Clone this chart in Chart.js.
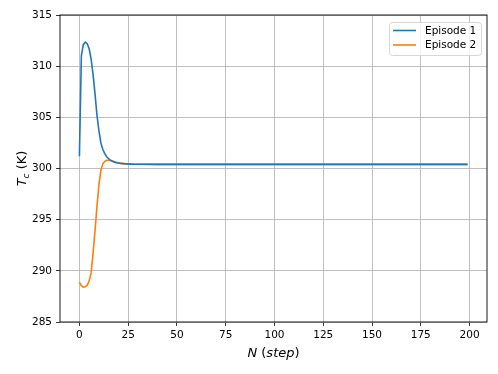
<!DOCTYPE html>
<html>
<head>
<meta charset="utf-8">
<script src="https://cdn.jsdelivr.net/npm/chart.js@4.4.1/dist/chart.umd.min.js"></script>
<style>
  html, body { margin: 0; padding: 0; background: #fff; }
  #wrap { width: 498px; height: 374px; }
</style>
</head>
<body>
<div id="wrap"><canvas id="tcChart" width="498" height="374"></canvas></div>
<script>
const steps = [
  0, 1, 2, 3, 4, 5, 6, 7, 8, 9, 10, 11, 12, 13, 14, 15, 16, 17, 18, 19,
  20, 21, 22, 23, 24, 25, 26, 27, 28, 29, 30,
  40, 50, 60, 70, 80, 90, 100, 110, 120, 130, 140, 150, 160, 170, 180, 190, 199
];
const episode1 = [
  301.2, 311.0, 312.1, 312.35, 312.2, 311.7, 310.7, 309.2, 307.3, 305.2,
  303.7, 302.5, 301.85, 301.45, 301.15, 300.95, 300.8, 300.7, 300.62, 300.57,
  300.53, 300.5, 300.48, 300.46, 300.45, 300.44, 300.43, 300.42, 300.42, 300.41, 300.41,
  300.4, 300.4, 300.4, 300.4, 300.4, 300.4, 300.4, 300.4, 300.4, 300.4, 300.4,
  300.4, 300.4, 300.4, 300.4, 300.4, 300.4
];
const episode2 = [
  288.9, 288.55, 288.4, 288.45, 288.6, 289.0, 289.8, 291.7, 293.9, 296.3,
  298.4, 299.8, 300.45, 300.7, 300.8, 300.8, 300.78, 300.72, 300.66, 300.6,
  300.56, 300.52, 300.5, 300.48, 300.46, 300.45, 300.44, 300.43, 300.42, 300.42, 300.41,
  300.4, 300.4, 300.4, 300.4, 300.4, 300.4, 300.4, 300.4, 300.4, 300.4, 300.4,
  300.4, 300.4, 300.4, 300.4, 300.4, 300.4
];
const seriesNames = ["Episode 1", "Episode 2"];
const seriesColors = ["#1f77b4", "#ff7f0e"];
const xTicks = [0, 25, 50, 75, 100, 125, 150, 175, 200];

const toPoints = (ys) => steps.map((x, i) => ({ x: x, y: ys[i] }));

// frame, axis titles (with sub/italics) and the legend box
const decorations = {
  id: "decorations",
  afterDraw(chart) {
    const { ctx, chartArea: a } = chart;
    ctx.save();
    ctx.strokeStyle = "#000";
    ctx.lineWidth = 0.9;
    ctx.strokeRect(a.left, a.top, a.right - a.left, a.bottom - a.top);

    // x title: N (step)
    ctx.fillStyle = "#000";
    ctx.textBaseline = "alphabetic";
    const parts = [
      ["italic 13px 'DejaVu Sans'", "N"],
      ["13px 'DejaVu Sans'", " ("],
      ["italic 13px 'DejaVu Sans'", "step"],
      ["13px 'DejaVu Sans'", ")"]
    ];
    let w = 0;
    parts.forEach(p => { ctx.font = p[0]; w += ctx.measureText(p[1]).width; });
    let x = (a.left + a.right) / 2 - w / 2;
    parts.forEach(p => {
      ctx.font = p[0];
      ctx.fillText(p[1], x, 357);
      x += ctx.measureText(p[1]).width;
    });

    // y title: T_c (K)
    ctx.save();
    ctx.translate(26, (a.top + a.bottom) / 2);
    ctx.rotate(-Math.PI / 2);
    const yparts = [
      ["italic 13px 'DejaVu Sans'", "T", 0],
      ["italic 9px 'DejaVu Sans'", "c", 3],
      ["13px 'DejaVu Sans'", " (K)", 0]
    ];
    w = 0;
    yparts.forEach(p => { ctx.font = p[0]; w += ctx.measureText(p[1]).width; });
    x = -w / 2;
    yparts.forEach(p => {
      ctx.font = p[0];
      ctx.fillText(p[1], x, p[2]);
      x += ctx.measureText(p[1]).width;
    });
    ctx.restore();

    // legend
    const bx = 389.5, by = 22.5, bw = 92, bh = 33, r = 3;
    ctx.beginPath();
    ctx.moveTo(bx + r, by);
    ctx.arcTo(bx + bw, by, bx + bw, by + bh, r);
    ctx.arcTo(bx + bw, by + bh, bx, by + bh, r);
    ctx.arcTo(bx, by + bh, bx, by, r);
    ctx.arcTo(bx, by, bx + bw, by, r);
    ctx.closePath();
    ctx.fillStyle = "rgba(255,255,255,0.8)";
    ctx.fill();
    ctx.strokeStyle = "#d6d6d6";
    ctx.lineWidth = 1;
    ctx.stroke();
    ctx.font = "10.5px 'DejaVu Sans'";
    ctx.textBaseline = "middle";
    seriesNames.forEach((name, i) => {
      const ly = 30.5 + i * 14.5;
      ctx.strokeStyle = seriesColors[i];
      ctx.lineWidth = 1.6;
      ctx.beginPath();
      ctx.moveTo(393, ly);
      ctx.lineTo(416, ly);
      ctx.stroke();
      ctx.fillStyle = "#000";
      ctx.fillText(name, 425, ly + 0.5);
    });
    ctx.restore();
  }
};

new Chart(document.getElementById("tcChart").getContext("2d"), {
  type: "line",
  data: {
    datasets: [
      {
        label: seriesNames[0],
        data: toPoints(episode1),
        borderColor: seriesColors[0],
        borderWidth: 1.6,
        pointRadius: 0,
        tension: 0,
        fill: false
      },
      {
        label: seriesNames[1],
        data: toPoints(episode2),
        borderColor: seriesColors[1],
        borderWidth: 1.6,
        pointRadius: 0,
        tension: 0,
        fill: false
      }
    ]
  },
  options: {
    responsive: false,
    animation: false,
    layout: { padding: { left: 0, right: 11, top: 15, bottom: 0 } },
    plugins: {
      legend: { display: false },
      tooltip: { enabled: false }
    },
    scales: {
      x: {
        type: "linear",
        min: -9.95,
        max: 208.95,
        afterBuildTicks: (scale) => { scale.ticks = xTicks.map(v => ({ value: v })); },
        afterFit: (scale) => { scale.height = 52; },
        grid: { color: "#b0b0b0", lineWidth: 0.8, tickColor: "#000", tickLength: 4 },
        border: { display: false },
        ticks: { color: "#000", font: { family: "DejaVu Sans", size: 10.5 }, padding: 3, maxRotation: 0 }
      },
      y: {
        min: 285,
        max: 315,
        ticks: { stepSize: 5, color: "#000", font: { family: "DejaVu Sans", size: 10.5 }, padding: 4 },
        afterFit: (scale) => { scale.width = 60; },
        grid: { color: "#b0b0b0", lineWidth: 0.8, tickColor: "#000", tickLength: 4 },
        border: { display: false }
      }
    }
  },
  plugins: [decorations]
});
</script>
</body>
</html>
